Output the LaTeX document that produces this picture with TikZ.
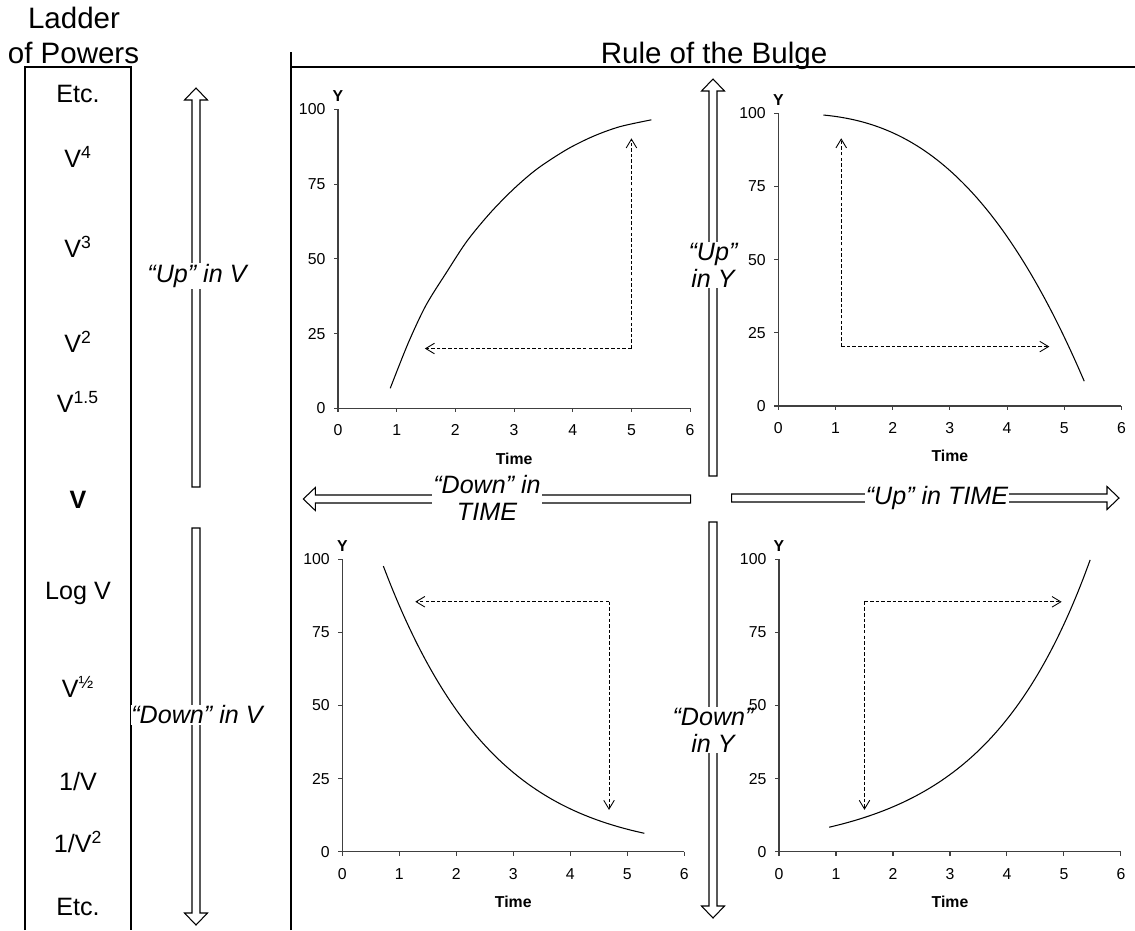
\documentclass[tikz,border=0pt]{standalone}
\usepackage{fontspec}
\setmainfont{Liberation Sans}
\usepackage{tikz}
\usetikzlibrary{arrows.meta, positioning, calc}
\tikzset{
  frameline/.style={line width=0.6pt, color=black},
  fatline/.style={line width=0.6pt, draw=black, fill=white},
  headtext/.style={font=\fontsize{16.8}{18}\selectfont, inner sep=1pt},
  bigtext/.style={font=\fontsize{14.3}{15.5}\selectfont, align=center, inner sep=1pt},
  arrowlbl/.style={font=\fontsize{14.3}{15.5}\selectfont\itshape, align=center,
    fill=white, inner sep=0.5pt},
  axisline/.style={line width=0.6pt, color=black!75},
  ticklbl/.style={font=\fontsize{9}{10}\selectfont, inner sep=0.5pt},
  axislbl/.style={font=\fontsize{9}{10}\selectfont\bfseries, inner sep=0.5pt},
  curve/.style={line width=0.6pt, color=black},
  dasharrow/.style={line width=0.5pt, dash pattern=on 2pt off 1.2pt,
    -{Straight Barb[length=5pt,width=6pt]}}
}
% hollow block arrow: tail x, tail y, length, angle
\newcommand{\fatarrow}[4]{%
  \draw[fatline, shift={(#1,#2)}, rotate=#4]
    (0,-4) -- ({#3-12},-4) -- ({#3-12},-11.5) -- (#3,0)
    -- ({#3-12},11.5) -- ({#3-12},4) -- (0,4) -- cycle;
}
% axes, ticks and labels of one chart (inside a scaled scope)
\newcommand{\bulgeaxes}[1]{%
  \draw[axisline] (0,100) -- (0,0) -- (6,0);
  \foreach \t in {0,...,6}{
    \draw[axisline] (\t,0) -- ++(0,-2.3pt);
    \node[ticklbl, yshift=-12.5pt] (#1-x\t) at (\t,0) {\t};
  }
  \foreach \v in {0,25,50,75,100}{
    \draw[axisline] (0,\v) -- ++(-2.3pt,0);
    \node[ticklbl, anchor=east, xshift=-6.5pt] (#1-y\v) at (0,\v) {\v};
  }
  \node[axislbl, yshift=7.4pt] (#1-ylab) at (0,100) {Y};
  \node[axislbl, yshift=-28.5pt] (#1-xlab) at (3,0) {Time};
}

\begin{document}
\begin{tikzpicture}[x=0.02cm, y=-0.02cm]
  \useasboundingbox (0,0) rectangle (1135,930);

  % frames
  \draw[frameline] (25,930) -- (25,67) -- (131,67) -- (131,930);
  \draw[frameline] (291,930) -- (291,52);
  \draw[frameline] (291,67) -- (1135,67);
  \node[headtext, anchor=base] (ladder) at (74,28) {Ladder};
  \node[headtext, anchor=base] (powers) at (73.5,63) {of Powers};
  \node[headtext, anchor=base] (bulge) at (714,63) {Rule of the Bulge};

  % ladder of powers
  \foreach \y/\lab/\nm in {94/Etc./etctop, 157/V\textsuperscript{4}/vfour,
      247/V\textsuperscript{3}/vthree, 342/V\textsuperscript{2}/vtwo,
      402/V\textsuperscript{1.5}/vonehalf, 500/\textbf{V}/vone,
      593/Log V/logv, 687/V\textsuperscript{½}/vsqrt, 782/{1/V}/vinv,
      842/{1/V\textsuperscript{2}}/vinvtwo, 907/Etc./etcbot}
    \node[bigtext] (\nm) at (78,\y) {\lab};

  % block arrows
  \fatarrow{196}{487}{399}{90}
  \fatarrow{196}{528}{397}{-90}
  \fatarrow{713}{476}{397}{90}
  \fatarrow{713}{522}{396}{-90}
  \fatarrow{690.7}{499}{387.4}{180}
  \fatarrow{731.7}{498}{387.3}{0}

  \node[arrowlbl] (upv) at (197,276) {“Up” in V};
  \node[arrowlbl] (downv) at (197,715) {“Down” in V};
  \node[arrowlbl] (upy) at (713,265) {“Up”\\in Y};
  \node[arrowlbl] (downy) at (713,730) {“Down”\\in Y};
  \node[arrowlbl] (downt) at (487,498) {“Down” in\\TIME};
  \node[arrowlbl] (upt) at (937,498) {“Up” in TIME};

  % top left chart
  \begin{scope}[shift={(338,408.3)}, x=1.174cm, y=0.0598cm]
    \bulgeaxes{tl}
    \draw[curve] plot[smooth] coordinates {(0.89,6.7) (1.2,22) (1.5,34.5)
      (1.85,45.5) (2.2,56) (2.6,65.5) (3.0,73.5) (3.4,80.2) (3.9,86.6)
      (4.35,91) (4.8,94.2) (5.34,96.5)};
    \coordinate (tl-c) at (5,20);
    \coordinate (tl-a) at (1.48,20);
    \coordinate (tl-b) at (5,90.3);
    \draw[dasharrow] (tl-c) -- (tl-a);
    \draw[dasharrow] (tl-c) -- (tl-b);
  \end{scope}

  % top right chart
  \begin{scope}[shift={(778.3,406)}, x=1.144cm, y=0.05854cm]
    \bulgeaxes{tr}
    \draw[curve] plot[domain=0.79:5.35, samples=40, smooth]
      (\x, {100-1.04*\x^2.67});
    \coordinate (tr-c) at (1.1,20.3);
    \coordinate (tr-a) at (4.74,20.3);
    \coordinate (tr-b) at (1.1,91.5);
    \draw[dasharrow] (tr-c) -- (tr-a);
    \draw[dasharrow] (tr-c) -- (tr-b);
  \end{scope}

  % bottom left chart
  \begin{scope}[shift={(342.3,851.7)}, x=1.14cm, y=0.05848cm]
    \bulgeaxes{bl}
    \draw[curve] plot[domain=0.72:5.3, samples=40, smooth]
      (\x, {exp(4.953-0.5043*\x-0.01564*\x*\x)});
    \coordinate (bl-c) at (4.68,85.5);
    \coordinate (bl-a) at (1.28,85.5);
    \coordinate (bl-b) at (4.68,14.3);
    \draw[dasharrow] (bl-c) -- (bl-a);
    \draw[dasharrow] (bl-c) -- (bl-b);
  \end{scope}

  % bottom right chart
  \begin{scope}[shift={(779,851.7)}, x=1.14cm, y=0.05854cm]
    \bulgeaxes{br}
    \draw[curve] plot[domain=0.88:5.46, samples=40, smooth]
      (\x, {5.2*exp(0.541*\x)});
    \coordinate (br-c) at (1.5,85.4);
    \coordinate (br-a) at (4.96,85.4);
    \coordinate (br-b) at (1.5,14.3);
    \draw[dasharrow] (br-c) -- (br-a);
    \draw[dasharrow] (br-c) -- (br-b);
  \end{scope}
\end{tikzpicture}
\end{document}
